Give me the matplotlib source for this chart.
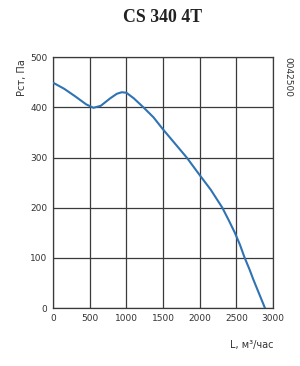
import matplotlib
matplotlib.use("Agg")
import matplotlib.pyplot as plt

# fan curve
flow = [0, 150, 300, 450, 550, 650, 780, 870, 937, 1000, 1100, 1232, 1370,
        1500, 1650, 1823, 2000, 2150, 2309, 2400, 2480, 2550, 2609, 2680, 2732, 2810, 2891]
pressure = [449, 437, 422, 406, 399, 403, 418, 427, 430, 429, 418, 400, 380,
            356, 330, 300, 265, 236, 200, 174, 150, 126, 102, 77, 57, 29, 0]

x_ticks = [0, 500, 1000, 1500, 2000, 2500, 3000]
y_ticks = [0, 100, 200, 300, 400, 500]

title = "CS 340 4T"
y_label = "Рст, Па"
x_label = "L, м³/час"
code = "0042500"

fig = plt.figure(figsize=(3.0, 3.66), dpi=100)
ax = fig.add_axes([0.177, 0.158, 0.733, 0.686])

ax.plot(flow, pressure, color="#2f73b3", lw=1.5, solid_capstyle="round",
        solid_joinstyle="round", zorder=3)

ax.set_xlim(0, 3000)
ax.set_ylim(0, 500)
ax.set_xticks(x_ticks)
ax.set_yticks(y_ticks)
ax.grid(True, color="#3a3a3a", lw=0.9)
ax.tick_params(length=0, labelsize=6.5, colors="#333333", pad=4)
for s in ax.spines.values():
    s.set_color("#3a3a3a")
    s.set_linewidth(0.9)

fig.text(0.543, 0.953, title, ha="center", va="center", fontsize=12.8,
         fontweight="bold", family="Liberation Serif", color="#222222")
fig.text(0.073, 0.787, y_label, rotation=90, ha="center", va="center",
         fontsize=7, color="#333333")
fig.text(0.84, 0.058, x_label, ha="center", va="center",
         fontsize=7, color="#333333")
fig.text(0.958, 0.79, code, rotation=-90, ha="center", va="center",
         fontsize=6.5, color="#333333")

fig.savefig("out.png", dpi=100)
